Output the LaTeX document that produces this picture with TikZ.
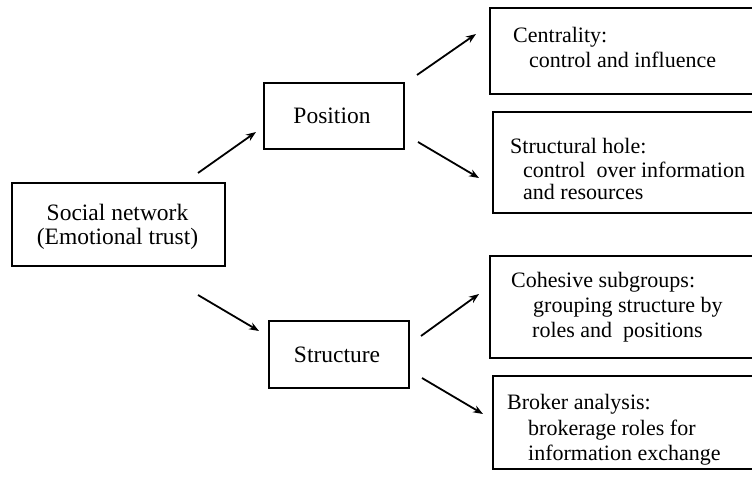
\documentclass[tikz,border=0pt]{standalone}
\usepackage{fontspec}
\setmainfont{Liberation Serif}
\usetikzlibrary{arrows.meta}
\begin{document}
\begin{tikzpicture}[x=1pt,y=-1pt,
  box/.style={draw=black,line width=1.7pt,rectangle,inner sep=0pt,anchor=north west},
  bigtxt/.style={inner sep=0pt,font=\fontsize{23.5}{24}\selectfont,anchor=base},
  linetxt/.style={inner sep=0pt,font=\fontsize{22}{23}\selectfont,anchor=base west},
  arr/.style={line width=1.8pt,-{Stealth[length=10pt,width=7.5pt]}}]
\useasboundingbox (0,0) rectangle (752,479);
\clip (0,0) rectangle (752,479);

% left and middle boxes
\node[box,minimum width=213pt,minimum height=83pt] (social) at (11,182) {};
\node[box,minimum width=140pt,minimum height=66pt] (position) at (263,82) {};
\node[box,minimum width=140pt,minimum height=67pt] (structure) at (268,320) {};

\node[bigtxt] (socialA) at (117.5,220) {Social network};
\node[bigtxt] (socialB) at (117.5,244) {(Emotional trust)};
\node[bigtxt] (positionT) at (332,123) {Position};
\node[bigtxt] (structureT) at (337,362) {Structure};

% right-hand boxes, running off the right edge
\node[box,minimum width=271pt,minimum height=86pt] (central) at (489,7) {};
\node[box,minimum width=268pt,minimum height=101pt] (hole) at (492,111) {};
\node[box,minimum width=271pt,minimum height=102pt] (cohesive) at (489,255) {};
\node[box,minimum width=268pt,minimum height=93pt] (broker) at (492,375) {};

\node[linetxt] (centralA) at (513,42) {Centrality:};
\node[linetxt] (centralB) at (529,67) {control and influence};

\node[linetxt] (holeA) at (510,153) {Structural hole:};
\node[linetxt] (holeB) at (523,177) {control\ \ over information};
\node[linetxt] (holeC) at (523,199) {and resources};

\node[linetxt] (cohesiveA) at (511,287) {Cohesive subgroups:};
\node[linetxt] (cohesiveB) at (533,312) {grouping structure by};
\node[linetxt] (cohesiveC) at (532,337) {roles and\ \ positions};

\node[linetxt] (brokerA) at (507,409) {Broker analysis:};
\node[linetxt] (brokerB) at (528,435) {brokerage roles for};
\node[linetxt] (brokerC) at (528,460) {information exchange};

% arrow end points
\coordinate (s1) at (198,173);  \coordinate (e1) at (256,132);
\coordinate (s2) at (198,295);  \coordinate (e2) at (259,331);
\coordinate (s3) at (417,75);   \coordinate (e3) at (476,34);
\coordinate (s4) at (418,142);  \coordinate (e4) at (479,178);
\coordinate (s5) at (421,336);  \coordinate (e5) at (479,294);
\coordinate (s6) at (422,378);  \coordinate (e6) at (483,414);

\draw[arr] (s1) -- (e1);
\draw[arr] (s2) -- (e2);
\draw[arr] (s3) -- (e3);
\draw[arr] (s4) -- (e4);
\draw[arr] (s5) -- (e5);
\draw[arr] (s6) -- (e6);
\end{tikzpicture}
\end{document}
